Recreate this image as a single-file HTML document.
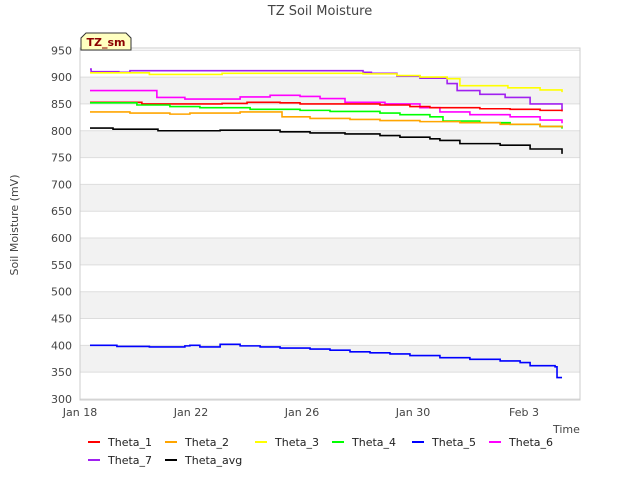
<!DOCTYPE html>
<html><head><meta charset="utf-8"><style>
body{margin:0;background:#fff;font-family:"Liberation Sans","DejaVu Sans",sans-serif}
svg text{font-family:"DejaVu Sans","Liberation Sans",sans-serif}
</style></head><body>
<svg id="c" width="640" height="480" xmlns="http://www.w3.org/2000/svg">
<text x="320" y="15" text-anchor="middle" font-size="13" fill="#444">TZ Soil Moisture</text>
<g id="bands"></g><g id="grid"></g><g id="series"></g>
<rect x="80" y="48" width="500" height="352" fill="none" stroke="#ccc"/>
<g id="axes"></g>
<text transform="translate(18,225) rotate(-90)" text-anchor="middle" font-size="11" fill="#444">Soil Moisture (mV)</text>
<text x="553" y="433" font-size="11" fill="#444">Time</text>
<path d="M81,50 L81,38 L86,33 L126,33 L131,38 L131,50 Z" fill="#ffffc0" stroke="#333"/>
<text x="106" y="46" text-anchor="middle" font-size="11" font-weight="bold" fill="#8b0000">TZ_sm</text>
<g id="legend"></g>
</svg>
<script>
const seriesNames=["Theta_1","Theta_2","Theta_3","Theta_4","Theta_5","Theta_6","Theta_7","Theta_avg"];
const seriesColors=["#ff0000","#ffa500","#ffff00","#00ff00","#0000ff","#ff00ff","#a020f0","#000000"];
const yTicks=[300,350,400,450,500,550,600,650,700,750,800,850,900,950];
const xTickDays=[0,4,8,12,16];
const xTickLabels=["Jan 18","Jan 22","Jan 26","Jan 30","Feb 3"];
const theta1Days=[0.36,2.23,5.12,6.02,7.21,7.93,10.81,11.89,12.61,14.41,15.5,16.58,17.37];
const theta1Vals=[853,850,851,853,852,850,848,845,843,841,840,838,836];
const theta2Days=[0.36,1.8,3.24,3.96,5.77,7.28,8.29,9.73,10.81,12.25,13.69,15.14,16.58,17.37];
const theta2Vals=[835,833,831,833,835,826,823,821,819,817,815,812,808,806];
const theta3Days=[0.36,2.5,5.12,9.55,10.2,11.42,12.25,13.23,13.69,15.42,16.58,17.37];
const theta3Vals=[908,905,907,907,906,903,900,897,884,880,876,872];
const theta4Days=[0.36,2.05,3.24,4.32,6.13,7.93,9.01,10.81,11.53,12.61,13.08,14.41,15.5,16.58,17.37];
const theta4Vals=[852,848,845,843,840,838,836,833,830,826,818,815,812,808,804];
const theta5Days=[0.36,1.33,2.5,3.78,3.96,4.32,5.05,5.77,6.49,7.21,8.29,9.01,9.73,10.45,11.17,11.89,12.97,14.05,15.14,15.86,16.22,17.12,17.19,17.37];
const theta5Vals=[400,398,397,399,400,397,402,399,397,395,393,391,388,386,384,381,377,374,371,368,362,360,340,340];
const theta6Days=[0.36,2.77,3.78,5.77,6.85,7.93,8.65,9.55,10.99,12.25,12.97,14.05,15.5,16.58,17.37];
const theta6Vals=[875,862,859,863,866,864,860,853,850,843,835,830,826,820,814];
const theta7Days=[0.36,0.4,1.4,1.8,10.2,10.5,11.42,12.25,13.23,13.59,14.41,15.32,16.22,17.37];
const theta7Vals=[915,910,909,912,909,907,902,898,888,875,868,862,850,838];
const thetaAvgDays=[0.36,1.19,2.81,5.05,7.21,8.29,9.55,10.81,11.53,12.61,12.97,13.69,15.14,16.22,17.37];
const thetaAvgVals=[805,803,800,801,798,796,794,791,788,785,782,776,773,766,757];
const allDays=[theta1Days,theta2Days,theta3Days,theta4Days,theta5Days,theta6Days,theta7Days,thetaAvgDays];
const allVals=[theta1Vals,theta2Vals,theta3Vals,theta4Vals,theta5Vals,theta6Vals,theta7Vals,thetaAvgVals];
const drawOrder=[6,2,5,0,3,1,7,4];
const NS="http://www.w3.org/2000/svg";
const xS=d=>80+d*27.75;
const yS=v=>399-(v-300)*0.5365;
function mk(t,p){const e=document.createElementNS(NS,t);for(const k in p)e.setAttribute(k,p[k]);return e;}
const bands=document.getElementById('bands'),grid=document.getElementById('grid'),axes=document.getElementById('axes');
for(let i=0;i<yTicks.length-1;i++){
  if(i%2===1){const r=mk('rect',{x:80,y:yS(yTicks[i+1]),width:500,height:yS(yTicks[i])-yS(yTicks[i+1]),fill:'#f2f2f2'});
  
  
  bands.appendChild(r);}
}
yTicks.forEach(v=>{
  const l=mk('line',{x1:80,x2:580,y1:yS(v),y2:yS(v),stroke:'#ddd'});
  
  
  grid.appendChild(l);
  const t=mk('text',{x:72,y:yS(v)+4,'text-anchor':'end','font-size':'11',fill:'#444'});
  t.textContent=v;
  
  
  axes.appendChild(t);
});
xTickDays.forEach((d,i)=>{
  const t=mk('text',{x:xS(d),y:416,'text-anchor':'middle','font-size':'11',fill:'#444'});
  t.textContent=xTickLabels[i];
  
  
  axes.appendChild(t);
});
const sg=document.getElementById('series');
drawOrder.forEach(i=>{
  const D=allDays[i],V=allVals[i];let p='M'+xS(D[0])+','+yS(V[0]);
  for(let k=1;k<D.length;k++){p+=' H'+xS(D[k])+' V'+yS(V[k]);}
  const path=mk('path',{d:p,fill:'none',stroke:seriesColors[i],'stroke-width':1.6});
  
  
  sg.appendChild(path);
});
const lg=document.getElementById('legend');
const lx=[88,165,255,332,412,489,88,165],ly=[442,442,442,442,442,442,460,460];
seriesNames.forEach((n,i)=>{
  const g=mk('g',{});
  
  
  g.appendChild(mk('line',{x1:lx[i],x2:lx[i]+12,y1:ly[i],y2:ly[i],stroke:seriesColors[i],'stroke-width':2}));
  const t=mk('text',{x:lx[i]+20,y:ly[i]+4,'font-size':'11',fill:'#222'});t.textContent=n;g.appendChild(t);
  lg.appendChild(g);
});
</script>
</body></html>
